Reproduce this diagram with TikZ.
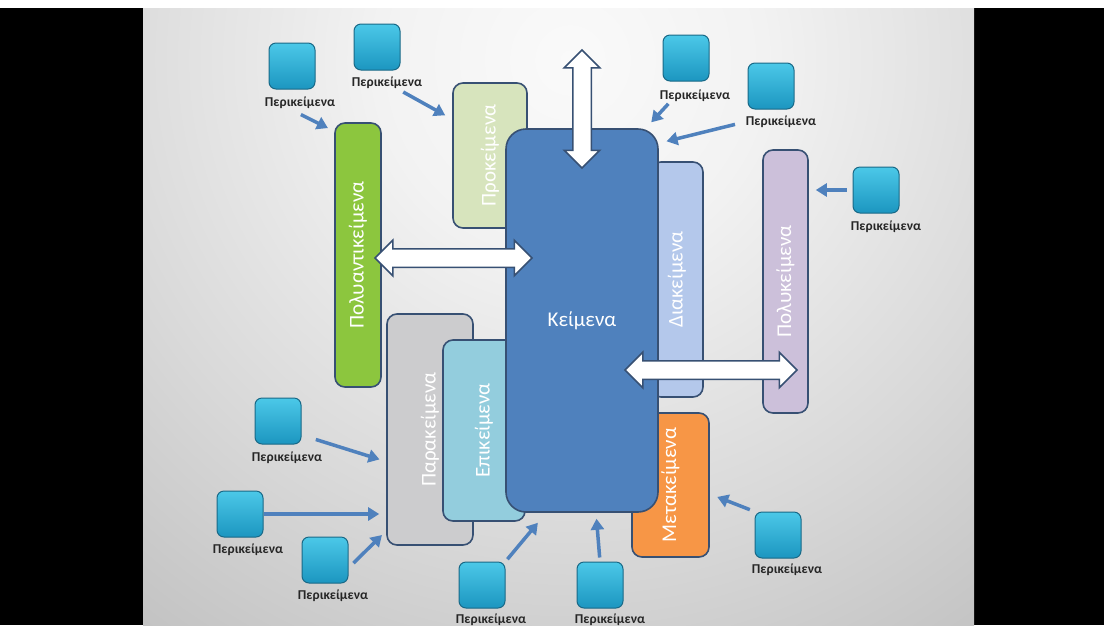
\documentclass[tikz,border=0pt]{standalone}
\usepackage{fontspec}
\setmainfont{Carlito}
\usetikzlibrary{shapes.arrows,arrows.meta}
\definecolor{boxline}{RGB}{55,80,115}
\definecolor{arrowblue}{RGB}{79,129,189}
\definecolor{keimblue}{RGB}{79,129,189}
\definecolor{polygreen}{RGB}{140,198,62}
\definecolor{prokbeige}{RGB}{215,228,189}
\definecolor{diakblue}{RGB}{180,200,235}
\definecolor{polyklila}{RGB}{204,192,218}
\definecolor{paragray}{RGB}{204,204,206}
\definecolor{epikblue}{RGB}{147,205,221}
\definecolor{metaorange}{RGB}{247,150,70}
\definecolor{cyantop}{RGB}{75,200,232}
\definecolor{cyanbot}{RGB}{28,150,192}
\definecolor{cyanline}{RGB}{25,105,135}
\pgfdeclareradialshading{slidebg}{\pgfpoint{0bp}{0bp}}{color(0bp)=(white!98!black); color(6bp)=(white!95!black); color(15bp)=(white!85!black); color(25bp)=(white!73!black); color(33bp)=(white!68!black); color(44bp)=(white!61!black); color(50bp)=(white!58!black)}

\begin{document}
\begin{tikzpicture}
    [x=1pt, y=-1pt,
      kbox/.style={draw=boxline, line width=1.6pt, rounded corners=10pt, inner sep=0pt,
        text=white, font=\fontsize{21}{25}\selectfont},
      persq/.style={draw=cyanline, line width=1pt, rounded corners=7pt, minimum size=46pt,
        inner sep=0pt, top color=cyantop, bottom color=cyanbot},
      perlab/.style={font=\bfseries\fontsize{13.5}{15}\selectfont, text=black!85, inner sep=1pt},
      peri/.style={draw=arrowblue, line width=3.5pt, -{Triangle[length=11pt,width=13pt]}},
      dblarrow/.style={double arrow, draw=boxline, fill=white, line width=1.5pt,
        inner xsep=0pt, inner ysep=8.5pt, double arrow head extend=8.5pt}]
    \useasboundingbox (0,0) rectangle (1104,625);
    \fill[black] (0,0) rectangle (1104,625);
    \fill[white] (0,0) rectangle (1104,8);
    \begin{scope}
      \clip (143,8) rectangle (974,625);
      \shade[shading=slidebg] (570,60) circle (800pt);
    \end{scope}
    % boxes
    \node[kbox, fill=prokbeige, minimum width=74pt, minimum height=145pt] (prok) at (490,155.5) {\rotatebox{90}{Προκείμενα}};
    \node[kbox, fill=diakblue, minimum width=52pt, minimum height=235pt] (diak) at (677,279.5) {\rotatebox{90}{Διακείμενα}};
    \node[kbox, fill=paragray, minimum width=86pt, minimum height=231pt] (para) at (430,429.5) {\rotatebox{90}{Παρακείμενα}};
    \node[kbox, fill=epikblue, minimum width=82pt, minimum height=181pt] (epik) at (484,430.5) {\rotatebox{90}{Επικείμενα}};
    \node[kbox, fill=metaorange, minimum width=77pt, minimum height=144pt] (meta) at (670.5,485) {\rotatebox{90}{Μετακείμενα}};
    \node[kbox, fill=polygreen, minimum width=46pt, minimum height=264pt] (polyant) at (358,255) {\rotatebox{90}{Πολυαντικείμενα}};
    \node[kbox, fill=polyklila, minimum width=45pt, minimum height=263pt] (polyk) at (785.5,281.5) {\rotatebox{90}{Πολυκείμενα}};
    \node[kbox, fill=keimblue, rounded corners=20pt, minimum width=152pt, minimum height=383pt] (keim) at (582,320.5) {Κείμενα};
    % double arrows
    \node[dblarrow, minimum height=157pt] (arrL) at (453.5,258) {};
    \node[dblarrow, minimum height=172pt] (arrR) at (711,370) {};
    \node[dblarrow, rotate=90, minimum height=118pt] (arrU) at (582,109) {};
    % Περικείμενα
    \foreach \n/\x/\y/\lx/\ly in {1/292/66/300/103, 2/377/47/387/83, 3/686/58/695/96,
        4/771/86/781/122, 5/876/190/886/227, 6/278/421/287/458, 7/240/514/248/550,
        8/325/560/333/596, 9/482/585/491/620, 10/600/585/610/620, 11/778/535/787/570}
      {\node[persq] (per\n) at (\x,\y) {};
       \node[perlab] (lab\n) at (\lx,\ly) {Περικείμενα};}
    \draw[peri, shorten <=1pt, shorten >=7pt] ([yshift=-4pt]lab1.south) -- ([yshift=-9pt]polyant.north west);
    \draw[peri, shorten <=4pt, shorten >=8pt] (lab2) -- ([yshift=-37pt]prok.north west);
    \draw[peri, shorten <=1pt, shorten >=8pt] ([xshift=-26pt]lab3.south) -- ([xshift=-13pt]keim.north east);
    \draw[peri, shorten <=10pt, shorten >=8pt] (lab4.west) -- ([yshift=-15pt]keim.north east);
    \draw[peri, shorten <=6pt, shorten >=7pt] (per5.west) -- (per5.west -| polyk.east);
    \draw[peri, shorten <=15pt, shorten >=7pt] ([yshift=-14pt]per6.east) -- ([yshift=-32pt]para.west);
    \draw[peri, shorten >=7pt] (per7.east) -- (per7.east -| para.west);
    \draw[peri, shorten <=7pt, shorten >=6pt] ([yshift=-8pt]per8.east) -- ([yshift=15pt]para.south west);
    \draw[peri, shorten <=3pt, shorten >=13pt] (per9.north east) -- ([xshift=41pt]keim.south west);
    \draw[peri, shorten <=4pt, shorten >=6pt] (per10.north) -- ([xshift=14pt]keim.south);
    \draw[peri, shorten <=5pt, shorten >=8pt] (per11.north west) -- ([yshift=-9pt]meta.east);
  \end{tikzpicture}
\end{document}
